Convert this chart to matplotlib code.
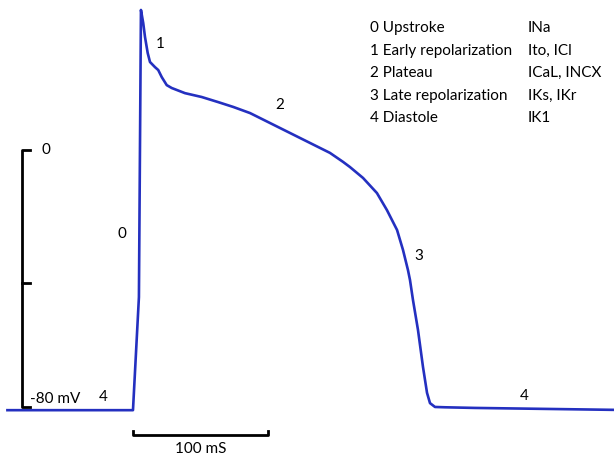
import matplotlib
matplotlib.use("Agg")
import matplotlib.pyplot as plt

# cardiac action potential, time in ms, voltage in mV
time_ms = [-93, 0, 4.4, 5.9, 7.6, 8.9, 10.9, 12.6, 16.3, 18.7, 21.3, 25.0, 28.7,
           38.5, 50.9, 63.2, 74.3, 86.7, 101.5, 116.3, 131.1, 145.9, 155.6, 160.7,
           170.4, 180.7, 188.1, 195.6, 200.0, 203.7, 205.2, 207.4, 211.1, 214.8,
           217.8, 220.0, 223.7, 231.1, 253.3, 356]
volt_mv = [-81, -81, -45.8, 43.6, 39.5, 35.2, 30.2, 27.4, 25.8, 24.9, 22.7, 20.2, 19.3,
           17.7, 16.5, 14.9, 13.4, 11.5, 8.4, 5.3, 2.2, -0.9, -3.7, -5.3,
           -8.7, -13.4, -18.7, -24.9, -31.1, -37.4, -40.5, -46.7, -56.0, -67.5,
           -75.6, -78.8, -80.0, -80.1, -80.3, -80.9]

phase_labels = ["0", "1", "2", "3", "4", "4"]
phase_t = [-8, 20, 109, 212, 290, -22]
phase_v = [-26, 33, 14, -33, -76.5, -77]

legend_phases = ["0 Upstroke", "1 Early repolarization", "2 Plateau",
                 "3 Late repolarization", "4 Diastole"]
legend_currents = ["INa", "Ito, ICl", "ICaL, INCX", "IKs, IKr", "IK1"]

plt.rcParams["font.family"] = ["Lato", "DejaVu Sans"]

fig = plt.figure(figsize=(6.14, 4.59), dpi=100)
ax = fig.add_axes([0, 0, 1, 1])
ax.set_xlim(-98.5, 356.3)
ax.set_ylim(-96.2, 46.7)
ax.axis("off")

ax.plot(time_ms, volt_mv, color="#2430c0", lw=1.9, solid_joinstyle="round")

# voltage scale bar
ax.plot([-76.3, -82.2, -82.2, -76.3], [0, 0, -80, -80], color="black", lw=2)
ax.plot([-82.2, -76.3], [-41.5, -41.5], color="black", lw=2)
ax.text(-68, 0, "0", fontsize=11, va="center", ha="left")
ax.text(-76, -77.5, "-80 mV", fontsize=11, va="center", ha="left")

# time scale bar
ax.plot([0, 0, 100, 100], [-87.5, -88.8, -88.8, -87.5], color="black", lw=2)
ax.text(50, -93.2, "100 mS", fontsize=11, va="center", ha="center")

for lab, t, v in zip(phase_labels, phase_t, phase_v):
    ax.text(t, v, lab, fontsize=11, va="center", ha="center")

for i, (p, c) in enumerate(zip(legend_phases, legend_currents)):
    y = 1 - (28 + i * 22.6) / 459
    fig.text(370 / 614, y, p, fontsize=11, va="center", ha="left")
    fig.text(528 / 614, y, c, fontsize=11, va="center", ha="left")

plt.savefig("out.png", dpi=100)
plt.close()
